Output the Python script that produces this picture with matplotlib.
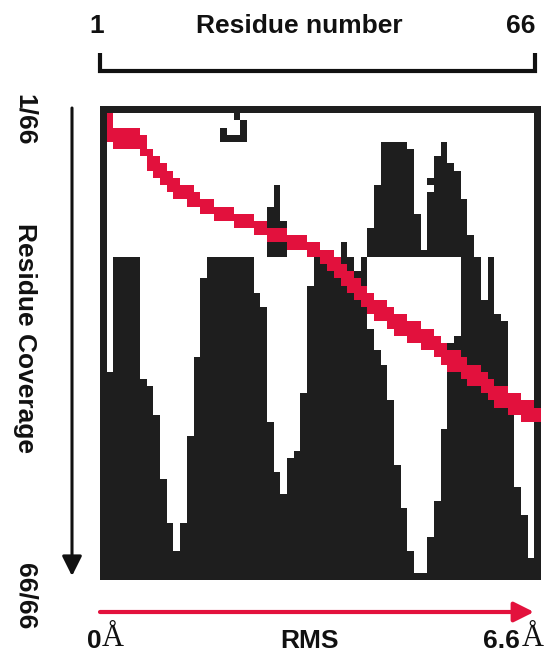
import numpy as np
import matplotlib.pyplot as plt

N = 66  # grid is 66 x 66, outer ring of cells is the frame

# row where the bottom-anchored black block starts, for columns 1..64
coverage_top = [37, 21, 21, 21, 21, 38, 39, 43, 52, 58, 62, 58, 46, 35, 24, 21,
                21, 21, 21, 21, 21, 21, 26, 28, 44, 51, 54, 49, 48, 40, 25, 21,
                21, 22, 23, 19, 21, 23, 21, 31, 34, 36, 41, 50, 56, 62, 65, 65,
                60, 55, 45, 33, 32, 13, 18, 21, 27, 21, 29, 30, 43, 53, 57, 63]

# upper double peak, columns 40..53, black from peak_top down to peak_bottom
peak_cols = list(range(40, 54))
peak_top = [17, 11, 5, 5, 5, 5, 6, 15, 20, 10, 7, 5, 8, 9]
peak_bottom = 20
peak_holes = [(49, 11)]  # (col, row) white notch

# small floating pieces (col, first row, last row)
hook_cells = [(20, 1, 1), (21, 2, 4), (18, 3, 4), (19, 4, 4), (20, 4, 4)]
spike_cells = [(26, 11, 13), (25, 14, 16), (26, 14, 16), (27, 16, 16),
               (25, 19, 20), (26, 19, 20), (27, 19, 20)]

# red trace, columns 1..65 : first and last row
red_top = [1, 3, 3, 3, 3, 4, 6, 7, 8, 9, 10, 11, 11, 12, 13, 13, 14, 14, 14, 15,
           15, 15, 16, 16, 17, 17, 17, 18, 18, 18, 19, 19, 20, 20, 21, 22, 23, 24,
           25, 26, 27, 27, 28, 29, 29, 30, 30, 31, 31, 32, 33, 34, 34, 35, 36, 36,
           37, 38, 39, 39, 40, 40, 41, 41, 42]
red_bot = [4, 5, 5, 5, 5, 6, 8, 9, 10, 11, 12, 12, 13, 13, 14, 14, 15, 15, 15, 16,
           16, 16, 17, 17, 18, 18, 18, 19, 19, 19, 20, 20, 21, 22, 23, 24, 25, 26,
           27, 28, 29, 29, 30, 31, 31, 32, 32, 33, 33, 34, 35, 36, 36, 37, 38, 38,
           39, 40, 41, 41, 42, 42, 43, 43, 43]

BLACK = np.array([0.12, 0.12, 0.12])
RED = np.array([0.89, 0.07, 0.24])

img = np.ones((N, N, 3))
# frame
img[0, :] = BLACK
img[N - 1, :] = BLACK
img[:, 0] = BLACK
img[:, N - 1] = BLACK

for i, top in enumerate(coverage_top):
    c = i + 1
    img[top:N, c] = BLACK

for c, top in zip(peak_cols, peak_top):
    img[top:peak_bottom + 1, c] = BLACK
for c, r in peak_holes:
    img[r, c] = 1.0

for c, r0, r1 in hook_cells + spike_cells:
    img[r0:r1 + 1, c] = BLACK

for i, (t, b) in enumerate(zip(red_top, red_bot)):
    c = i + 1
    img[t:b + 1, c] = RED

W, H = 556, 658
fig = plt.figure(figsize=(W / 100, H / 100), dpi=100)

# overlay in pixel coordinates for labels and arrows
ov = fig.add_axes([0, 0, 1, 1])
ov.set_xlim(0, W)
ov.set_ylim(H, 0)
ov.axis('off')

x0, x1, y0, y1 = 99.7, 540.0, 106.0, 580.0
ax = fig.add_axes([x0 / W, 1 - y1 / H, (x1 - x0) / W, (y1 - y0) / H])
ax.imshow(img, extent=(0, N, N, 0), aspect='auto', interpolation='nearest')
ax.axis('off')

fs = 19
bold = dict(fontsize=fs, fontweight='bold', family='Liberation Sans', color='#111111')

# top: residue number bracket
ov.text(97, 26, '1', ha='center', va='center', **bold)
ov.text(299, 26, 'Residue number', ha='center', va='center', **bold)
ov.text(521, 26, '66', ha='center', va='center', **bold)
ov.plot([100, 100, 535, 535], [53, 71, 71, 53], color='#111111', lw=3,
        solid_joinstyle='miter', solid_capstyle='butt')

# left: residue coverage arrow
ov.text(25, 120, '1/66', ha='center', va='center', rotation=270, **bold)
ov.text(25, 338, 'Residue Coverage', ha='center', va='center', rotation=270, **bold)
ov.text(25, 596, '66/66', ha='center', va='center', rotation=270, **bold)
ov.annotate('', xy=(72, 576), xytext=(72, 108),
            arrowprops=dict(arrowstyle='-|>', lw=2.2, color='#111111',
                            mutation_scale=30, shrinkA=0, shrinkB=0))

# bottom: RMS arrow
ov.annotate('', xy=(534, 612), xytext=(100, 612),
            arrowprops=dict(arrowstyle='-|>', lw=3, color=RED,
                            mutation_scale=30, shrinkA=0, shrinkB=0))
ov.text(87, 641, '0', ha='left', va='center', **bold)
ov.text(102, 639, 'Å', ha='left', va='center', fontsize=22,
        family='Liberation Serif', color='#111111')
ov.text(309, 641, 'RMS', ha='center', va='center', **bold)
ov.text(483, 641, '6.6', ha='left', va='center', **bold)
ov.text(522, 639, 'Å', ha='left', va='center', fontsize=22,
        family='Liberation Serif', color='#111111')

fig.savefig('out.png', dpi=100)
